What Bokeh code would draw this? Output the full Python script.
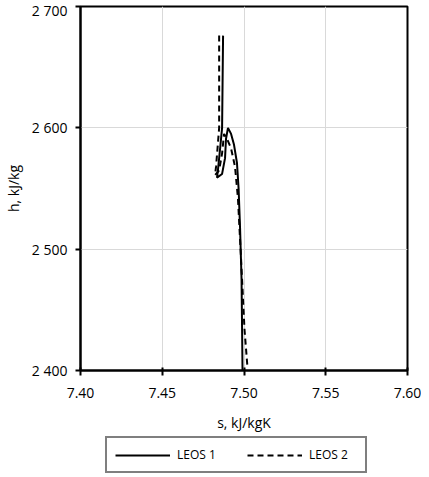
from bokeh.plotting import figure
from bokeh.models import Legend, FixedTicker, Range1d
from bokeh.layouts import column
from bokeh.embed import file_html
from bokeh.resources import INLINE

# LEOS 1 (solid)
s1 = [7.4872, 7.4866, 7.4854, 7.4842, 7.4835, 7.4866, 7.4884, 7.4890, 7.4902,
      7.4921, 7.4939, 7.4957, 7.4967, 7.4976, 7.4985, 7.4991]
h1 = [2676, 2600, 2583, 2567, 2559, 2562, 2575, 2591, 2600,
      2595, 2586, 2571, 2550, 2517, 2475, 2400]
# LEOS 2 (dashed)
s2 = [7.4848, 7.4848, 7.4838, 7.4829, 7.4823, 7.4848, 7.4866, 7.4878, 7.4896,
      7.4921, 7.4945, 7.4963, 7.4982, 7.4994, 7.5003, 7.5021]
h2 = [2676, 2600, 2583, 2568, 2561, 2565, 2579, 2595, 2591,
      2583, 2568, 2542, 2492, 2459, 2434, 2403]

x_ticks = [7.40, 7.45, 7.50, 7.55, 7.60]
x_labels = ["7.40", "7.45", "7.50", "7.55", "7.60"]
y_ticks = [2400, 2500, 2600, 2700]
y_labels = ["2 400", "2 500", "2 600", "2 700"]
series_names = ["LEOS 1", "LEOS 2"]

FONT = "Open Sans"

p = figure(frame_width=327, frame_height=364, output_backend="svg",
           toolbar_location=None,
           x_range=Range1d(7.40, 7.60), y_range=Range1d(2400, 2700),
           min_border_left=72, min_border_right=14, min_border_top=6,
           min_border_bottom=4)

p.line(s1, h1, line_color="black", line_width=2)
p.line(s2, h2, line_color="black", line_width=2, line_dash="6 4")

p.xaxis.ticker = FixedTicker(ticks=x_ticks)
p.yaxis.ticker = FixedTicker(ticks=y_ticks)
p.xaxis.major_label_overrides = dict(zip(x_ticks, x_labels))
p.yaxis.major_label_overrides = dict(zip(y_ticks, y_labels))
p.xaxis.minor_tick_line_color = None
p.yaxis.minor_tick_line_color = None

for ax in (p.xaxis[0], p.yaxis[0]):
    ax.axis_line_color = "black"
    ax.axis_line_width = 2
    ax.major_tick_line_color = "black"
    ax.major_tick_line_width = 2
    ax.major_label_text_font = FONT
    ax.major_label_text_font_size = "14px"
    ax.major_label_text_color = "black"
    ax.axis_label_text_font = FONT
    ax.axis_label_text_font_size = "14px"
    ax.axis_label_text_font_style = "normal"
    ax.axis_label_text_color = "black"

p.xaxis.major_tick_in = 3
p.xaxis.major_tick_out = 5
p.yaxis.major_tick_in = 0
p.yaxis.major_tick_out = 5
p.xaxis.major_label_standoff = 12
p.yaxis.major_label_standoff = 8
p.xaxis.axis_label = "s, kJ/kgK"
p.yaxis.axis_label = "h, kJ/kg"
p.xaxis.axis_label_standoff = 12
p.yaxis.axis_label_standoff = 6

p.xgrid.ticker = FixedTicker(ticks=x_ticks)
p.ygrid.ticker = FixedTicker(ticks=y_ticks)
p.grid.grid_line_color = "#d9d9d9"
p.grid.grid_line_width = 1

p.outline_line_color = "black"
p.outline_line_width = 2
p.background_fill_color = "white"
p.border_fill_color = "white"

# legend strip below the chart (its frame is aligned with the chart frame)
lg = figure(width=413, height=42, output_backend="svg", toolbar_location=None,
            x_range=Range1d(0, 1), y_range=Range1d(0, 1), min_border=0)
lg.axis.visible = False
lg.grid.visible = False
lg.outline_line_color = None
k1 = lg.line([-2, -1], [-2, -1], line_color="black", line_width=2)
k2 = lg.line([-2, -1], [-2, -1], line_color="black", line_width=2,
             line_dash="6 4")

legend = Legend(items=[(series_names[0], [k1]), (series_names[1], [k2])],
                orientation="horizontal", location=(25, 3))
legend.border_line_color = "black"
legend.border_line_width = 2
legend.label_text_font = FONT
legend.label_text_font_size = "12px"
legend.label_text_color = "black"
legend.glyph_width = 55
legend.glyph_height = 14
legend.label_standoff = 7
legend.label_width = 48
legend.spacing = 22
legend.padding = 8
legend.margin = 0
lg.add_layout(legend, "center")

layout = column(p, lg, spacing=0)
open("out.html", "w").write(file_html(layout, INLINE))
